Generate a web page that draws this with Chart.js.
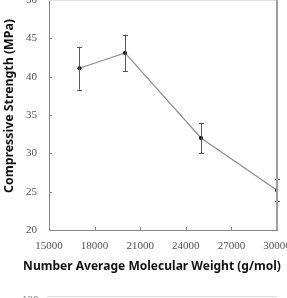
<!DOCTYPE html>
<html>
<head>
<meta charset="utf-8">
<script src="https://cdn.jsdelivr.net/npm/chart.js@4/dist/chart.umd.min.js"></script>
<style>
  html, body { margin:0; padding:0; width:287px; height:298px; overflow:hidden; background:#fff; position:relative; }
  #wrap { position:absolute; left:0; top:-20px; width:320px; height:318px; }
  #nextLabel { position:absolute; left:22px; top:293px; font:11px "Liberation Serif", serif; color:#777; }
  #nextLine { position:absolute; left:47px; top:296px; width:230px; height:1px; background:#ddd; }
</style>
</head>
<body>
<div id="wrap"><canvas id="c" width="320" height="318"></canvas></div>
<div id="nextLine"></div>
<div id="nextLabel">120</div>
<script>
const molWeights = [17000, 20000, 25000, 30000];
const strength   = [41.1, 43.1, 32.0, 25.2];
const errPlus    = [2.8, 2.4, 2.0, 1.4];
const errMinus   = [2.8, 2.4, 2.0, 1.4];
const xTitle = 'Number Average Molecular Weight (g/mol)';
const yTitle = 'Compressive Strength (MPa)';

const CA = { left:49, right:277, top:20, bottom:250 };
const W = 320, H = 318;

const decor = {
  id: 'decor',
  afterDatasetsDraw(chart) {
    const ctx = chart.ctx, xs = chart.scales.x, ys = chart.scales.y, a = chart.chartArea;
    ctx.save();
    // error bars
    ctx.strokeStyle = '#555'; ctx.lineWidth = 1;
    molWeights.forEach((m, i) => {
      const px = Math.round(xs.getPixelForValue(m)) + 0.5;
      const yt = ys.getPixelForValue(strength[i] + errPlus[i]);
      const yb = ys.getPixelForValue(strength[i] - errMinus[i]);
      ctx.beginPath();
      ctx.moveTo(px, yt); ctx.lineTo(px, yb);
      ctx.moveTo(px - 2.5, Math.round(yt)+0.5); ctx.lineTo(px + 2.5, Math.round(yt)+0.5);
      ctx.moveTo(px - 2.5, Math.round(yb)+0.5); ctx.lineTo(px + 2.5, Math.round(yb)+0.5);
      ctx.stroke();
    });
    ctx.restore();
  },
  afterDraw(chart) {
    const ctx = chart.ctx, xs = chart.scales.x, ys = chart.scales.y, a = chart.chartArea;
    ctx.save();
    // top and right borders
    ctx.strokeStyle = '#e2e2e2'; ctx.lineWidth = 1;
    ctx.beginPath(); ctx.moveTo(a.left, a.top + 0.5); ctx.lineTo(a.right, a.top + 0.5); ctx.stroke();
    ctx.strokeStyle = '#a0a0a0'; ctx.lineWidth = 2;
    ctx.beginPath(); ctx.moveTo(a.right, a.top); ctx.lineTo(a.right, a.bottom); ctx.stroke();
    // inward tick marks
    ctx.strokeStyle = '#888'; ctx.lineWidth = 1;
    ctx.beginPath();
    xs.ticks.forEach(t => {
      if (t.value <= xs.min || t.value >= xs.max) return;
      const px = Math.round(xs.getPixelForValue(t.value)) + 0.5;
      ctx.moveTo(px, a.bottom); ctx.lineTo(px, a.bottom - 3);
    });
    ys.ticks.forEach(t => {
      if (t.value <= ys.min || t.value >= ys.max) return;
      const py = Math.round(ys.getPixelForValue(t.value)) + 0.5;
      ctx.moveTo(a.left, py); ctx.lineTo(a.left + 3, py);
    });
    ctx.stroke();
    // axis titles
    ctx.fillStyle = '#111';
    ctx.textAlign = 'center'; ctx.textBaseline = 'middle';
    const fam = '"Noto Sans", "DejaVu Sans", sans-serif';
    ctx.font = 'bold 12px ' + fam;
    let w = ctx.measureText(xTitle).width;
    let fs = 12 * 258 / w;
    ctx.font = 'bold ' + fs.toFixed(2) + 'px ' + fam;
    ctx.fillText(xTitle, 152, 287);
    ctx.font = 'bold 12px ' + fam;
    w = ctx.measureText(yTitle).width;
    fs = 12 * 174 / w;
    ctx.font = 'bold ' + fs.toFixed(2) + 'px ' + fam;
    ctx.translate(9, 126);
    ctx.rotate(-Math.PI / 2);
    ctx.fillText(yTitle, 0, 0);
    ctx.restore();
  }
};

new Chart(document.getElementById('c'), {
  type: 'scatter',
  data: {
    datasets: [{
      data: molWeights.map((m, i) => ({ x: m, y: strength[i] })),
      showLine: true,
      borderColor: '#8c8c8c',
      borderWidth: 1.2,
      pointRadius: 2,
      pointBackgroundColor: '#000',
      pointBorderColor: '#000',
      pointBorderWidth: 0
    }]
  },
  options: {
    responsive: false,
    animation: false,
    devicePixelRatio: 1,
    layout: { padding: { top: CA.top, right: W - CA.right, left: 0, bottom: 0 } },
    plugins: { legend: { display: false }, tooltip: { enabled: false } },
    scales: {
      x: {
        type: 'linear', min: 15000, max: 30000,
        afterFit(s) { s.height = H - CA.bottom; },
        grid: { display: false, drawTicks: false },
        border: { display: true, color: '#888', width: 1 },
        ticks: { stepSize: 3000, padding: 10, color: '#555', font: { family: '"Liberation Serif", serif', size: 11 },
                 callback: v => String(v) }
      },
      y: {
        type: 'linear', min: 20, max: 50,
        afterFit(s) { s.width = CA.left; },
        grid: { display: false, drawTicks: false },
        border: { display: true, color: '#888', width: 1 },
        ticks: { stepSize: 5, padding: 12, color: '#555', font: { family: '"Liberation Serif", serif', size: 11 } }
      }
    }
  },
  plugins: [decor]
});
</script>
</body>
</html>
